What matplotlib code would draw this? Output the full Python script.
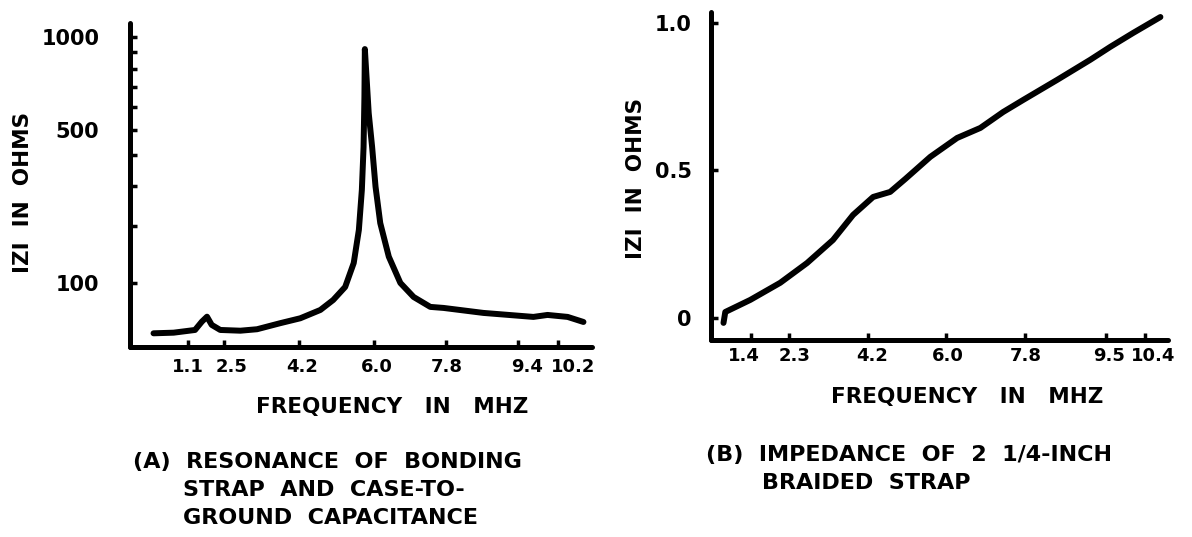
import numpy as np
import matplotlib
matplotlib.use("Agg")
import matplotlib.pyplot as plt
from matplotlib.ticker import FixedLocator, NullFormatter
from matplotlib.transforms import ScaledTranslation

plt.rcParams["font.family"] = ["DejaVu Sans"]

# (A) resonance of bonding strap and case-to-ground capacitance
freq_a = [0.85, 1.32, 1.82, 1.98, 2.10, 2.21, 2.41, 2.88, 3.27, 3.81, 4.28, 4.75,
          5.05, 5.33, 5.53, 5.65, 5.72, 5.76, 5.78, 5.79, 5.88, 5.96, 6.04, 6.15,
          6.35, 6.62, 6.93, 7.32, 7.63, 8.56, 9.73, 10.06, 10.53, 10.90]
z_a = [46.8, 47.3, 49.5, 56.7, 61.3, 53.8, 49.5, 48.9, 50.1, 55.3, 59.8, 68.0,
       78.8, 94.7, 129.5, 191, 290, 431, 649, 920, 572, 431, 299, 206,
       140, 100, 82.3, 71.2, 70.1, 65.0, 61.1, 63.0, 61.1, 56.4]
xtick_pos_a = [1.66, 2.5, 4.26, 6.0, 7.68, 9.38, 10.3]
xtick_lab_a = ["1.1", "2.5", "4.2", "6.0", "7.8", "9.4", "10.2"]
ymajor_a = [100, 500, 1000]
yminor_a = [200, 300, 400, 600, 700, 800, 900]

# (B) impedance of 2 1/4-inch braided strap
freq_b = [0.96, 1.0, 1.56, 2.23, 2.83, 3.41, 3.86, 4.31, 4.69, 5.03, 5.59, 6.19,
          6.71, 7.22, 7.67, 8.43, 9.17, 9.62, 10.13, 10.74]
z_b = [-0.017, 0.020, 0.061, 0.119, 0.186, 0.264, 0.349, 0.410, 0.427, 0.471,
       0.546, 0.610, 0.644, 0.698, 0.739, 0.807, 0.875, 0.919, 0.966, 1.020]
xtick_pos_b = [1.58, 2.43, 4.2, 5.95, 7.72, 9.52, 10.4]
xtick_lab_b = ["1.4", "2.3", "4.2", "6.0", "7.8", "9.5", "10.4"]
yticks_b = [0, 0.5, 1.0]
ylab_b = ["0", "0.5", "1.0"]

W, H = 1192, 537
fig = plt.figure(figsize=(W / 100, H / 100), dpi=100)


def box(x0, y0, x1, y1):
    return [x0 / W, 1 - y1 / H, (x1 - x0) / W, (y1 - y0) / H]


def txt(x, y, s, **kw):
    fig.text(x / W, 1 - y / H, s, fontweight="bold", **kw)


def style(ax):
    for s in ["top", "right"]:
        ax.spines[s].set_visible(False)
    for s in ["left", "bottom"]:
        ax.spines[s].set_linewidth(3.6)
        ax.spines[s].set_capstyle("round")
    ax.tick_params(which="both", direction="in", length=5, width=2.5)


def nudge(labels, shifts):
    # hand-lettered labels sit a little off their tick marks
    for t, dx in zip(labels, shifts):
        t.set_transform(t.get_transform() + ScaledTranslation(dx / 100, 0, fig.dpi_scale_trans))


# left panel, hand-drawn compressed scale
ax1 = fig.add_axes(box(130, 23, 592, 347))
p = 0.3
ax1.set_yscale("function", functions=(lambda v: np.sign(v) * np.abs(v) ** p,
                                      lambda v: np.sign(v) * np.abs(v) ** (1 / p)))
ax1.plot(freq_a, z_a, color="black", lw=4.3, solid_capstyle="round", solid_joinstyle="round")
ax1.set_xlim(0.3, 11.1)
ax1.set_ylim(36.8, 1097)
ax1.yaxis.set_major_locator(FixedLocator(ymajor_a))
ax1.yaxis.set_minor_locator(FixedLocator(yminor_a))
ax1.yaxis.set_minor_formatter(NullFormatter())
ax1.set_yticklabels([str(v) for v in ymajor_a])
ax1.set_xticks(xtick_pos_a)
ax1.set_xticklabels(xtick_lab_a)
style(ax1)
ax1.tick_params(axis="y", pad=22, labelsize=15)
ax1.tick_params(axis="x", pad=8, labelsize=13)
for t in ax1.get_xticklabels() + ax1.get_yticklabels():
    t.set_fontweight("bold")
nudge(ax1.get_xticklabels(), [0, 7, 3, 3, 1, 9, 15])

# right panel, linear
ax2 = fig.add_axes(box(711, 12, 1168, 340))
ax2.plot(freq_b, z_b, color="black", lw=4.3, solid_capstyle="round", solid_joinstyle="round")
ax2.set_xlim(0.68, 10.91)
ax2.set_ylim(-0.075, 1.037)
ax2.set_yticks(yticks_b)
ax2.set_yticklabels(ylab_b)
ax2.set_xticks(xtick_pos_b)
ax2.set_xticklabels(xtick_lab_b)
style(ax2)
ax2.tick_params(axis="y", pad=14, labelsize=15)
ax2.tick_params(axis="x", pad=5, labelsize=13)
for t in ax2.get_xticklabels() + ax2.get_yticklabels():
    t.set_fontweight("bold")
nudge(ax2.get_xticklabels(), [-7, 5, 4, 1, 0, 3, 8])

# axis titles
txt(23, 192, "IZI  IN  OHMS", rotation=90, ha="center", va="center", fontsize=15.5)
txt(636, 178, "IZI  IN  OHMS", rotation=90, ha="center", va="center", fontsize=15.5)
txt(392, 407, "FREQUENCY   IN   MHZ", ha="center", va="center", fontsize=15.5)
txt(967, 397, "FREQUENCY   IN   MHZ", ha="center", va="center", fontsize=15.5)

# captions
txt(133, 462, "(A)  RESONANCE  OF  BONDING", ha="left", va="center", fontsize=16)
txt(183, 490, "STRAP  AND  CASE-TO-", ha="left", va="center", fontsize=16)
txt(183, 518, "GROUND  CAPACITANCE", ha="left", va="center", fontsize=16)
txt(706, 455, "(B)  IMPEDANCE  OF  2  1/4-INCH", ha="left", va="center", fontsize=16)
txt(762, 483, "BRAIDED  STRAP", ha="left", va="center", fontsize=16)

fig.savefig("out.png", dpi=100)
